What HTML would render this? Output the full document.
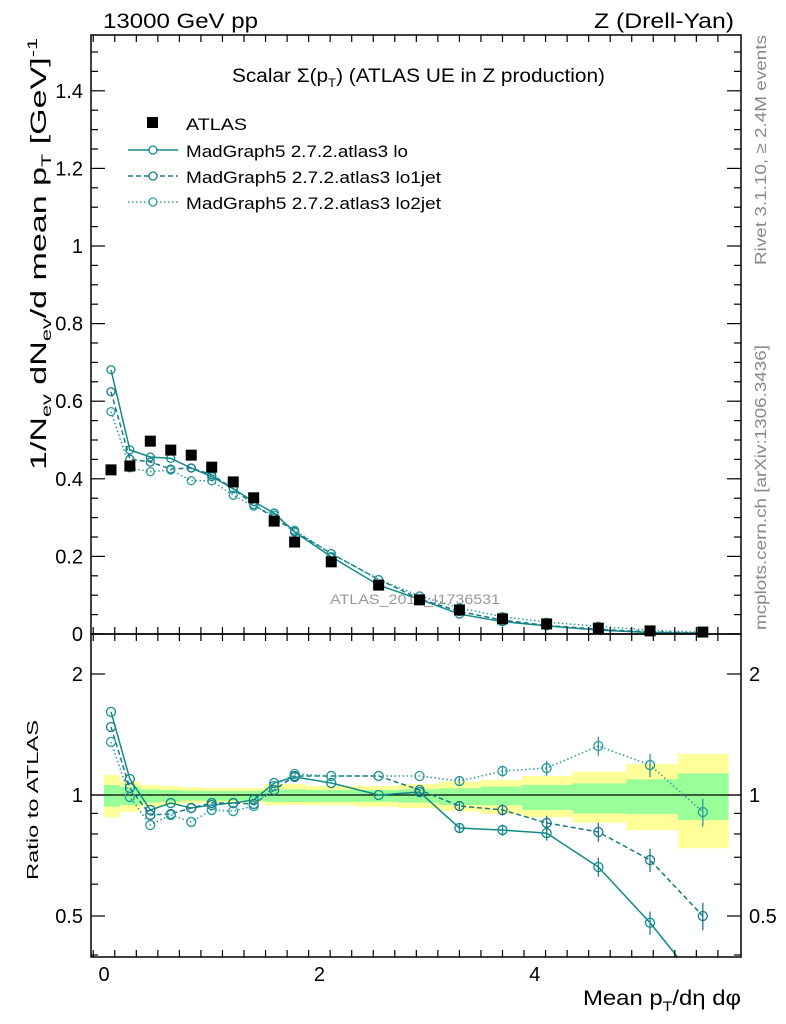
<!DOCTYPE html>
<html><head><meta charset="utf-8"><style>
html,body{margin:0;padding:0;background:#fff;}
svg{display:block;font-family:"Liberation Sans",sans-serif;}
</style></head><body>
<svg id="c" width="786" height="1024" viewBox="0 0 786 1024" xmlns="http://www.w3.org/2000/svg">
<text x="103" y="28" font-size="21" textLength="155" lengthAdjust="spacingAndGlyphs">13000 GeV pp</text>
<text x="594" y="28" font-size="21" textLength="140" lengthAdjust="spacingAndGlyphs">Z (Drell-Yan)</text>
<text x="232" y="82" font-size="19" textLength="373" lengthAdjust="spacingAndGlyphs">Scalar Σ(p<tspan dy="5" font-size="12">T</tspan><tspan dy="-5">) (ATLAS UE in Z production)</tspan></text>
<text transform="translate(46,470) rotate(-90)" font-size="22" textLength="432" lengthAdjust="spacingAndGlyphs">1/N<tspan dy="5" font-size="14">ev</tspan><tspan dy="-5"> dN</tspan><tspan dy="5" font-size="14">ev</tspan><tspan dy="-5">/d mean p</tspan><tspan dy="5" font-size="14">T</tspan><tspan dy="-5"> [GeV]</tspan><tspan dy="-9" font-size="14">-1</tspan></text>
<text transform="translate(38,880) rotate(-90)" font-size="16" textLength="160" lengthAdjust="spacingAndGlyphs">Ratio to ATLAS</text>
<text x="583" y="1005" font-size="21" textLength="158" lengthAdjust="spacingAndGlyphs">Mean p<tspan dy="6" font-size="14">T</tspan><tspan dy="-6">/dη dφ</tspan></text>
<text transform="translate(766,265) rotate(-90)" font-size="16" fill="#888" textLength="230" lengthAdjust="spacingAndGlyphs">Rivet 3.1.10, ≥ 2.4M events</text>
<text transform="translate(766,630) rotate(-90)" font-size="16" fill="#888" textLength="285" lengthAdjust="spacingAndGlyphs">mcplots.cern.ch [arXiv:1306.3436]</text>
<text x="330" y="604" font-size="14" fill="#999" textLength="170" lengthAdjust="spacingAndGlyphs">ATLAS_2019_I1736531</text>
<g id="ratioBands"></g>
<g id="marks"></g>
<g id="axes"></g>
<g>
<rect x="147" y="117" width="11" height="11" fill="#000"/>
<text x="186" y="130" font-size="17" textLength="61" lengthAdjust="spacingAndGlyphs">ATLAS</text>
<line x1="128" y1="150" x2="178" y2="150" stroke="#108a8a" stroke-width="1.5"/>
<circle cx="153" cy="150" r="4" fill="#fff" stroke="#108a8a" stroke-width="1.3"/>
<text x="186" y="157" font-size="17" textLength="222" lengthAdjust="spacingAndGlyphs">MadGraph5 2.7.2.atlas3 lo</text>
<line x1="128" y1="176" x2="178" y2="176" stroke="#1a7a8a" stroke-width="1.5" stroke-dasharray="5,3"/>
<circle cx="153" cy="176" r="4" fill="#fff" stroke="#1a7a8a" stroke-width="1.3"/>
<text x="186" y="183" font-size="17" textLength="255" lengthAdjust="spacingAndGlyphs">MadGraph5 2.7.2.atlas3 lo1jet</text>
<line x1="128" y1="202" x2="178" y2="202" stroke="#2a9a9a" stroke-width="1.5" stroke-dasharray="1.5,2.5"/>
<circle cx="153" cy="202" r="4" fill="#fff" stroke="#2a9a9a" stroke-width="1.3"/>
<text x="186" y="209" font-size="17" textLength="255" lengthAdjust="spacingAndGlyphs">MadGraph5 2.7.2.atlas3 lo2jet</text>
</g>
</svg>
<script>
const xCenters=[0.065,0.24,0.43,0.62,0.81,1.0,1.2,1.39,1.58,1.77,2.11,2.55,2.93,3.3,3.7,4.11,4.59,5.07,5.56];
const binEdges=[0,0.15,0.34,0.53,0.72,0.92,1.11,1.3,1.49,1.69,1.88,2.34,2.73,3.11,3.5,3.88,4.35,4.85,5.33,5.8];
const atlasValues=[0.423,0.433,0.497,0.474,0.461,0.430,0.392,0.351,0.291,0.237,0.186,0.126,0.088,0.062,0.039,0.026,0.015,0.008,0.005];
const ratioLo=[1.61,1.096,0.918,0.955,0.928,0.944,0.955,0.972,1.071,1.109,1.071,1.0,1.017,0.828,0.818,0.804,0.662,0.481,0.33];
const ratioLo1jet=[1.476,1.041,0.892,0.897,0.928,0.955,0.955,0.95,1.029,1.115,1.115,1.115,1.029,0.939,0.918,0.852,0.809,0.689,0.5];
const ratioLo2jet=[1.355,0.989,0.842,0.892,0.857,0.918,0.912,0.939,1.053,1.128,1.115,1.115,1.115,1.083,1.147,1.167,1.324,1.187,0.907];
const yellowHi=[1.121,1.079,1.059,1.053,1.045,1.041,1.041,1.041,1.065,1.065,1.053,1.053,1.065,1.079,1.09,1.115,1.143,1.194,1.265,1.289];
const yellowLo=[0.880,0.909,0.935,0.944,0.953,0.953,0.953,0.957,0.943,0.946,0.943,0.935,0.928,0.911,0.897,0.880,0.853,0.818,0.737,0.716];
const greenHi=[1.059,1.049,1.033,1.029,1.025,1.023,1.023,1.025,1.033,1.033,1.029,1.029,1.033,1.039,1.049,1.059,1.069,1.094,1.132,1.141];
const greenLo=[0.935,0.944,0.957,0.962,0.968,0.968,0.968,0.968,0.961,0.961,0.961,0.961,0.957,0.944,0.943,0.918,0.900,0.897,0.867,0.853];
const mainTicks=["0","0.2","0.4","0.6","0.8","1","1.2","1.4"];
const ratioTicks=["0.5","1","2"];
const xTicks=["0","2","4"];

const NS="http://www.w3.org/2000/svg";
const L=91,R=741,MT=35,MB=634,RT=634,RB=957;
function X(v){return 104+v*107.7;}
function Y(v){return 634-v*388;}
function YR(v){return 795-Math.log10(v)*402;}
function mk(tag,attrs,parent){const e=document.createElementNS(NS,tag);for(const k in attrs)e.setAttribute(k,attrs[k]);parent.appendChild(e);return e;}
const bands=document.getElementById('ratioBands'),marks=document.getElementById('marks'),axes=document.getElementById('axes');
const clipD=mk('defs',{},marks);
const cp=mk('clipPath',{id:'cm'},clipD);mk('rect',{x:L,y:MT,width:R-L,height:MB-MT},cp);
const cr=mk('clipPath',{id:'cr'},clipD);mk('rect',{x:L,y:RT,width:R-L,height:RB-RT},cr);

for(let i=0;i<yellowHi.length;i++){
  const x1=X(binEdges[i]),x2=X(binEdges[i+1]);
  let e=mk('rect',{x:x1,y:YR(yellowHi[i]),width:x2-x1,height:YR(yellowLo[i])-YR(yellowHi[i]),fill:'#ffff99'},bands);
  
  
  e=mk('rect',{x:x1,y:YR(greenHi[i]),width:x2-x1,height:YR(greenLo[i])-YR(greenHi[i]),fill:'#99ff99'},bands);
  
  
}
let ref=mk('line',{x1:L,x2:R,y1:YR(1),y2:YR(1),stroke:'#000','stroke-width':1.3},bands);



const series=[
 {r:ratioLo,name:'lo',color:'#108a8a',dash:'none'},
 {r:ratioLo1jet,name:'lo1jet',color:'#1a7a8a',dash:'5,3'},
 {r:ratioLo2jet,name:'lo2jet',color:'#2a9a9a',dash:'1.5,2.5'}
];
series.forEach(s=>{
  const mainVals=s.r.map((r,i)=>r*atlasValues[i]);
  const gM=mk('g',{'clip-path':'url(#cm)'},marks);
  
  
  let pl=mk('polyline',{points:mainVals.map((v,i)=>X(xCenters[i])+','+Y(v)).join(' '),fill:'none',stroke:s.color,'stroke-width':1.5,'stroke-dasharray':s.dash},gM);
  
  
  mainVals.forEach((v,i)=>{const c=mk('circle',{cx:X(xCenters[i]),cy:Y(v),r:4,fill:'none',stroke:s.color,'stroke-width':1.3},gM);
    
    });
  const gR=mk('g',{'clip-path':'url(#cr)'},marks);
  
  
  pl=mk('polyline',{points:s.r.map((v,i)=>X(xCenters[i])+','+YR(v)).join(' '),fill:'none',stroke:s.color,'stroke-width':1.5,'stroke-dasharray':s.dash},gR);
  
  
  s.r.forEach((v,i)=>{
    if(xCenters[i]>3.2){const err=0.02+0.025*(xCenters[i]-3.2);
      const eb=mk('line',{x1:X(xCenters[i]),x2:X(xCenters[i]),y1:YR(v*(1+err)),y2:YR(v*(1-err)),stroke:s.color,'stroke-width':1.3},gR);
      
      }
    const c=mk('circle',{cx:X(xCenters[i]),cy:YR(v),r:4.5,fill:'none',stroke:s.color,'stroke-width':1.3},gR);
    
    });
});
atlasValues.forEach((v,i)=>{const r=mk('rect',{x:X(xCenters[i])-5.5,y:Y(v)-5.5,width:11,height:11,fill:'#000'},marks);
  
  });

let f=mk('rect',{x:L,y:MT,width:R-L,height:MB-MT,fill:'none',stroke:'#000','stroke-width':1.5},axes);


f=mk('rect',{x:L,y:RT,width:R-L,height:RB-RT,fill:'none',stroke:'#000','stroke-width':1.5},axes);


function tk(x1,y1,x2,y2){mk('line',{x1,y1,x2,y2,stroke:'#000','stroke-width':1.2},axes);}
for(let v=0;v<=1.54;v+=0.05){const y=Y(v);const major=Math.abs(v/0.2-Math.round(v/0.2))<1e-6;const l=major?14:7;tk(L,y,L+l,y);tk(R,y,R-l,y);}
mainTicks.forEach(t=>{const e=mk('text',{x:L-8,y:Y(parseFloat(t))+7,'font-size':20,'text-anchor':'end'},axes);e.textContent=t;
  
  });
for(let v=-0.1;v<=5.9;v+=0.2){const x=X(v);const major=Math.abs(v-Math.round(v))<1e-6&&Math.round(v)%2==0;const l=major?14:7;
  tk(x,MB,x,MB-l);tk(x,MT,x,MT+l);tk(x,RB,x,RB-l);tk(x,RT,x,RT+l);}
xTicks.forEach(t=>{const e=mk('text',{x:X(parseFloat(t)),y:981,'font-size':20,'text-anchor':'middle'},axes);e.textContent=t;
  
  });
[0.4,0.5,0.6,0.7,0.8,0.9,1,2].forEach(v=>{const y=YR(v);const major=(v==0.5||v==1||v==2);const l=major?14:7;tk(L,y,L+l,y);tk(R,y,R-l,y);});
ratioTicks.forEach(t=>{const y=YR(parseFloat(t))+7;
  let e=mk('text',{x:L-8,y,'font-size':20,'text-anchor':'end'},axes);e.textContent=t;
  
  
  e=mk('text',{x:R+8,y,'font-size':20},axes);e.textContent=t;
  
  });
</script>
</body></html>
